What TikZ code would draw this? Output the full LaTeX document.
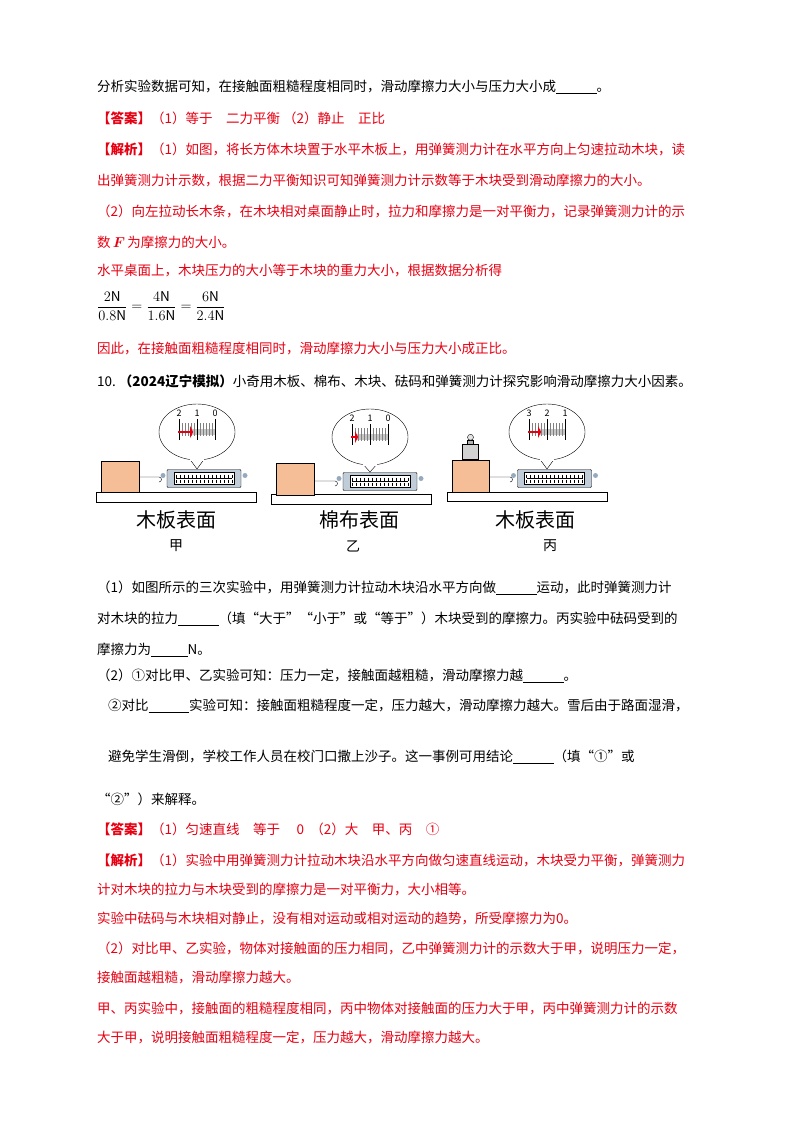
\documentclass[tikz,border=0pt]{standalone}
\usepackage{fontspec}
\setmainfont{Noto Sans CJK SC}
\usepackage{amsmath}
\usetikzlibrary{positioning,calc}
\definecolor{ansred}{RGB}{230,0,18}
\definecolor{woodorange}{RGB}{246,190,150}
\definecolor{metergray}{RGB}{150,170,190}
\definecolor{springgray}{RGB}{200,200,200}
\tikzset{
  txt/.style={anchor=west,inner sep=0pt,font=\fontsize{13.5pt}{14pt}\selectfont},
  ans/.style={txt,text=ansred},
  board/.style={draw,line width=1pt,fill=white},
  block/.style={draw,line width=0.6pt,fill=woodorange},
  surfcap/.style={font=\fontsize{20pt}{20pt}\selectfont},
  tag/.style={font=\fontsize{14pt}{14pt}\selectfont},
  dial/.style={font=\fontsize{9pt}{9pt}\selectfont,inner sep=0pt},
  meter/.pic={
    \fill[metergray] (-41,-3) circle (2.5pt) (41,-3) circle (2.5pt);
    \draw[fill=metergray!60,rounded corners=1pt] (-37,-9) rectangle (37,9);
    \draw[fill=white] (-30,-6) rectangle (30,6);
    \foreach \t in {-28,-24,...,28}{\draw[line width=0.3pt] (\t,-4) -- (\t,-1) (\t,1) -- (\t,4);}
    \draw[line width=0.5pt] (-28,0) -- (28,0);
  }
}
\newcommand{\bubble}[3]{% cx, cy, top of meter
  \draw[fill=white] (#1-8,#2+26) -- (#1,#3) -- (#1+8,#2+26);
  \draw[fill=white] (#1,#2) ellipse [x radius=38pt,y radius=28pt];
  \fill[white] (#1-7,#2+24) rectangle (#1+7,#2+29);
}
\begin{document}
\begin{tikzpicture}[x=1pt,y=-1pt]
\useasboundingbox (0,0) rectangle (800,1132);
% text above
\node[txt] (l1) at (97,87) {分析实验数据可知，在接触面粗糙程度相同时，滑动摩擦力大小与压力大小成\underline{\hspace{3em}}。};
\node[ans] (l2) at (97,118) {\textbf{【答案】}（1）等于\quad 二力平衡\ （2）静止\quad 正比};
\node[ans] (l3) at (97,149) {\textbf{【解析】}（1）如图，将长方体木块置于水平木板上，用弹簧测力计在水平方向上匀速拉动木块，读};
\node[ans] (l4) at (97,180) {出弹簧测力计示数，根据二力平衡知识可知弹簧测力计示数等于木块受到滑动摩擦力的大小。};
\node[ans] (l5) at (97,211) {（2）向左拉动长木条，在木块相对桌面静止时，拉力和摩擦力是一对平衡力，记录弹簧测力计的示};
\node[ans] (l6) at (97,242) {数\,$\boldsymbol{F}$\,为摩擦力的大小。};
\node[ans] (l7) at (97,271) {水平桌面上，木块压力的大小等于木块的重力大小，根据数据分析得};
\node[txt] (l8) at (97,306) {$\dfrac{2\mathrm{N}}{0.8\mathrm{N}}=\dfrac{4\mathrm{N}}{1.6\mathrm{N}}=\dfrac{6\mathrm{N}}{2.4\mathrm{N}}$};
\node[ans] (l9) at (97,348) {因此，在接触面粗糙程度相同时，滑动摩擦力大小与压力大小成正比。};
\node[txt] (l10) at (97,381) {10.\ \textbf{（2024辽宁模拟）}小奇用木板、棉布、木块、砝码和弹簧测力计探究影响滑动摩擦力大小因素。};

% figure: boards and blocks
\draw[board] (96,492) rectangle (256,502);
\node[block,minimum width=38pt,minimum height=31pt,inner sep=0pt] (bA) at (120,476.5) {};
\draw[board] (271,494) rectangle (431,504);
\node[block,minimum width=38pt,minimum height=32pt,inner sep=0pt] (bB) at (295,479) {};
\draw[board] (447,492) rectangle (607,501);
\node[block,minimum width=37pt,minimum height=32pt,inner sep=0pt] (bC) at (470.5,476) {};
\node[draw,fill=gray!35,minimum width=16pt,minimum height=15pt,inner sep=0pt,anchor=south] (wt) at (bC.north) {};
\draw[fill=gray!60] ($(wt.north)+(-3,0)$) rectangle ($(wt.north)+(3,-4)$);
\draw[fill=gray!20] ($(wt.north)+(0,-7)$) circle (3pt);

% meters
\pic at (204,478.5) {meter};
\coordinate (hA) at (159,477);
\pic at (380,481.5) {meter};
\coordinate (hB) at (335,481);
\pic at (554.5,478.5) {meter};
\coordinate (hC) at (510,477);
\draw (bA.east |- hA) -- (hA) arc (270:90:-2.5 and 2.5);
\draw (bB.east |- hB) -- (hB) arc (270:90:-2.5 and 2.5);
\draw (bC.east |- hC) -- (hC) arc (270:90:-2.5 and 2.5);

% bubbles
\bubble{197}{432}{469}
\bubble{370}{437}{472}
\bubble{547}{432}{469}
\foreach \cx/\cy/\pt/\a/\b/\c in {197/432/190/2/1/0, 370/437/355/2/1/0, 547/432/538/3/2/1}{
  \fill[springgray] (\pt,\cy-3) rectangle (\cx+18,\cy+3);
  \foreach \t in {0,3,...,36}{\draw[line width=0.3pt,gray] (\cx-18+\t,\cy-9) -- (\cx-18+\t,\cy+4);}
  \foreach \t in {-18,0,18}{\draw[line width=0.6pt] (\cx+\t,\cy-13) -- (\cx+\t,\cy+8);}
  \draw[ansred,line width=1.6pt] (\cx-19,\cy) -- (\pt,\cy);
  \fill[ansred] (\pt,\cy-6) -- (\pt+3,\cy) -- (\pt,\cy+6) -- cycle;
  \node[dial] at (\cx-18,\cy-19) {\a};
  \node[dial] at (\cx,\cy-19) {\b};
  \node[dial] at (\cx+18,\cy-19) {\c};
}

% captions
\node[surfcap] (cA) at (176,520) {木板表面};
\node[tag] (tA) at (176,546) {甲};
\node[surfcap] (cB) at (359,520) {棉布表面};
\node[tag] (tB) at (353,546) {乙};
\node[surfcap] (cC) at (535,520) {木板表面};
\node[tag] (tC) at (550,546) {丙};

% questions
\node[txt] (q1) at (97,588) {（1）如图所示的三次实验中，用弹簧测力计拉动木块沿水平方向做\underline{\hspace{3em}}运动，此时弹簧测力计};
\node[txt] (q2) at (97,619) {对木块的拉力\underline{\hspace{3em}}（填“大于”“小于”或“等于”）木块受到的摩擦力。丙实验中砝码受到的};
\node[txt] (q3) at (97,650) {摩擦力为\underline{\hspace{2.7em}}N。};
\node[txt] (q4) at (97,676) {（2）①对比甲、乙实验可知：压力一定，接触面越粗糙，滑动摩擦力越\underline{\hspace{3em}}。};
\node[txt] (q5) at (108,706) {②对比\underline{\hspace{3em}}实验可知：接触面粗糙程度一定，压力越大，滑动摩擦力越大。雪后由于路面湿滑，};
\node[txt] (q6) at (108,757) {避免学生滑倒，学校工作人员在校门口撒上沙子。这一事例可用结论\underline{\hspace{3em}}（填“①”或};
\node[txt] (q7) at (97,799) {“②”）来解释。};

% answers
\node[ans] (a1) at (97,829) {\textbf{【答案】}（1）匀速直线\quad 等于\quad\ 0\ \ （2）大\quad 甲、丙\quad ①};
\node[ans] (a2) at (97,860) {\textbf{【解析】}（1）实验中用弹簧测力计拉动木块沿水平方向做匀速直线运动，木块受力平衡，弹簧测力};
\node[ans] (a3) at (97,889) {计对木块的拉力与木块受到的摩擦力是一对平衡力，大小相等。};
\node[ans] (a4) at (97,918) {实验中砝码与木块相对静止，没有相对运动或相对运动的趋势，所受摩擦力为0。};
\node[ans] (a5) at (97,948) {（2）对比甲、乙实验，物体对接触面的压力相同，乙中弹簧测力计的示数大于甲，说明压力一定，};
\node[ans] (a6) at (97,977) {接触面越粗糙，滑动摩擦力越大。};
\node[ans] (a7) at (97,1008) {甲、丙实验中，接触面的粗糙程度相同，丙中物体对接触面的压力大于甲，丙中弹簧测力计的示数};
\node[ans] (a8) at (97,1037) {大于甲，说明接触面粗糙程度一定，压力越大，滑动摩擦力越大。};
\end{tikzpicture}
\end{document}
